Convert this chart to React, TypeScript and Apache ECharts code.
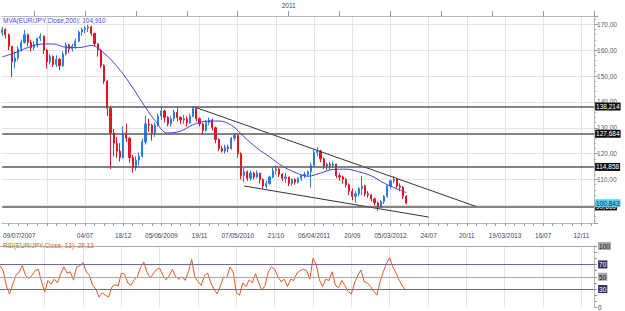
import React, { useEffect, useRef } from 'react';
import * as echarts from 'echarts';

// Two-week slots along the time axis (history + projection area on the right)
const SLOT_COUNT = 187;
const slotNames = Array.from({ length: SLOT_COUNT }, (_, i) => String(i));

// Bottom date labels and the slots they sit on
const dateLabels = ['09/07/2007', '04/07', '18/12', '05/06/2009', '19/11', '07/05/2010', '21/10', '06/04/2011', '20/09', '05/03/2012', '24/07', '20/11', '19/03/2013', '16/07', '12/11'];
const dateLabelSlots = [0, 26, 38, 50, 62, 74, 86, 98, 110, 122, 134, 146, 158, 170, 182];
const gridSlots = [14, 26, 38, 50, 62, 74, 86, 98, 110, 122, 134, 146, 158, 170, 182];
const yearLabel = '2011';
const yearSlot = 90;

// EUR/JPY bars: [open, close, low, high]
const ohlc: number[][] = [
  [166.8, 168.0, 165.5, 169.0], [168.0, 166.0, 164.5, 168.5], [166.0, 161.5, 160.0, 166.5], [161.5, 155.5, 149.6, 161.5],
  [155.5, 157.0, 153.0, 159.5], [157.0, 160.5, 156.0, 161.5], [160.5, 163.0, 159.5, 164.0], [163.0, 166.0, 162.5, 167.8],
  [166.0, 163.0, 161.5, 166.5], [163.0, 161.0, 159.5, 164.0], [161.0, 162.0, 160.0, 163.5], [162.0, 164.5, 161.0, 165.0],
  [164.5, 165.5, 163.5, 166.5], [165.5, 160.0, 158.5, 165.5], [160.0, 155.5, 152.9, 160.5], [155.5, 157.5, 154.5, 158.5],
  [157.5, 154.5, 153.5, 158.0], [154.5, 156.5, 153.5, 158.0], [156.5, 154.0, 152.2, 157.0], [154.0, 158.5, 153.5, 159.5],
  [158.5, 162.0, 158.0, 163.0], [162.0, 160.5, 159.0, 162.5], [160.5, 161.5, 159.5, 162.5], [161.5, 163.5, 160.5, 164.5],
  [163.5, 167.0, 163.0, 167.5], [167.0, 168.0, 165.5, 168.8], [168.0, 168.5, 166.5, 169.3], [168.5, 169.0, 167.0, 169.8],
  [169.0, 166.5, 165.5, 169.5], [166.5, 162.5, 161.5, 166.5], [162.5, 160.0, 157.5, 162.5], [160.0, 154.0, 153.0, 160.5],
  [154.0, 148.0, 147.0, 154.5], [148.0, 137.5, 134.5, 148.5], [137.5, 128.0, 114.1, 138.5], [128.0, 124.0, 119.0, 129.5],
  [124.0, 121.0, 118.5, 126.5], [121.0, 118.5, 117.0, 124.0], [118.5, 128.0, 118.0, 130.5], [128.0, 126.0, 124.5, 131.6],
  [126.0, 118.5, 116.5, 126.5], [118.5, 114.5, 112.7, 119.5], [114.5, 117.5, 113.5, 119.0], [117.5, 119.0, 115.5, 120.5],
  [119.0, 124.5, 118.5, 125.8], [124.5, 131.5, 123.5, 134.7], [131.5, 131.0, 128.5, 133.5], [131.0, 128.0, 125.0, 131.5],
  [128.0, 131.0, 126.5, 132.0], [131.0, 134.5, 130.5, 135.5], [134.5, 136.5, 133.0, 138.6], [136.5, 134.0, 132.0, 137.0],
  [134.0, 131.5, 130.5, 134.5], [131.5, 133.5, 130.5, 134.5], [133.5, 136.0, 132.5, 137.0], [136.0, 134.0, 132.5, 137.9],
  [134.0, 133.0, 131.5, 134.5], [133.0, 133.5, 131.5, 135.0], [133.5, 132.0, 130.5, 134.5], [132.0, 134.5, 131.5, 135.5],
  [134.5, 137.5, 134.0, 138.2], [137.5, 133.5, 132.5, 137.5], [133.5, 131.5, 130.5, 134.0], [131.5, 129.0, 127.6, 132.0],
  [129.0, 132.0, 128.5, 133.0], [132.0, 133.0, 131.0, 134.0], [133.0, 130.0, 129.0, 133.5], [130.0, 125.5, 124.0, 130.5],
  [125.5, 122.0, 121.0, 126.0], [122.0, 121.0, 120.4, 123.0], [121.0, 122.5, 120.0, 123.5], [122.5, 122.0, 120.5, 123.5],
  [122.0, 126.0, 121.5, 126.5], [126.0, 127.0, 125.0, 128.0], [127.0, 120.0, 118.5, 127.5], [120.0, 111.5, 110.0, 120.5],
  [111.5, 113.0, 109.0, 114.5], [113.0, 110.5, 109.5, 113.5], [110.5, 112.5, 109.5, 113.5], [112.5, 111.0, 110.0, 113.0],
  [111.0, 112.5, 110.5, 113.5], [112.5, 110.0, 108.5, 112.5], [110.0, 107.5, 106.4, 110.5], [107.5, 108.5, 106.5, 109.5],
  [108.5, 111.0, 108.0, 111.5], [111.0, 113.5, 110.5, 114.5], [113.5, 114.0, 112.0, 115.3], [114.0, 112.0, 111.0, 114.5],
  [112.0, 110.5, 109.5, 112.5], [110.5, 111.0, 108.7, 112.6], [111.0, 108.5, 107.5, 111.0], [108.5, 110.0, 107.5, 110.5],
  [110.0, 109.0, 108.0, 110.5], [109.0, 110.5, 108.5, 111.0], [110.5, 111.5, 109.5, 112.0], [111.5, 112.0, 110.5, 113.0],
  [112.0, 113.0, 111.0, 113.5], [113.0, 115.5, 106.9, 116.5], [115.5, 120.5, 115.0, 121.5], [120.5, 121.0, 119.0, 122.5],
  [121.0, 118.0, 116.7, 121.5], [118.0, 115.0, 114.0, 118.5], [115.0, 116.0, 113.5, 116.5], [116.0, 115.5, 114.0, 116.8],
  [115.5, 116.0, 114.5, 117.0], [116.0, 111.5, 110.5, 116.0], [111.5, 111.0, 109.5, 112.5], [111.0, 110.0, 108.5, 111.5],
  [110.0, 108.0, 107.0, 110.5], [108.0, 105.5, 104.0, 108.5], [105.5, 103.5, 102.0, 106.5], [103.5, 104.5, 101.0, 105.5],
  [104.5, 106.5, 103.5, 107.0], [106.5, 107.5, 104.0, 111.4], [107.5, 104.5, 103.5, 108.0], [104.5, 104.0, 103.0, 105.5],
  [104.0, 102.5, 101.5, 104.5], [102.5, 101.0, 100.0, 103.0], [101.0, 99.5, 97.9, 101.5], [99.5, 101.5, 99.0, 102.0],
  [101.5, 103.5, 100.5, 104.0], [103.5, 107.5, 103.0, 108.0], [107.5, 109.5, 106.5, 110.0], [109.5, 110.0, 108.5, 111.4],
  [110.0, 107.5, 106.5, 110.5], [107.5, 107.0, 105.5, 108.5], [107.0, 103.5, 102.5, 107.5], [103.5, 100.843, 100.4, 104.0],
];

// 200-period moving average, sampled every few slots
const mvaSlots = [0, 4, 8, 12, 16, 20, 24, 28, 32, 36, 40, 44, 48, 52, 56, 60, 64, 68, 72, 76, 80, 84, 88, 92, 96, 100, 104, 108, 112, 116, 120, 124, 127];
const mvaValues = [157.4, 159.0, 161.0, 162.3, 162.4, 161.1, 161.0, 161.8, 158.8, 153.8, 147.3, 139.8, 132.8, 128.0, 128.7, 131.2, 132.5, 132.6, 131.0, 126.5, 122.2, 118.8, 115.2, 112.8, 111.3, 112.5, 113.9, 114.0, 113.0, 111.4, 108.6, 106.4, 104.91];

// RSI(13), one value per slot
const rsiValues = [
  68, 60, 35, 22, 38, 52, 58, 68, 52, 47, 52, 60, 62, 42, 25, 44, 38, 46, 40, 55,
  66, 56, 58, 45, 66, 68, 73, 58, 52, 36, 30, 17, 24, 20, 17, 33, 37, 35, 56, 54,
  40, 36, 45, 50, 65, 74, 58, 48, 55, 62, 64, 52, 45, 52, 62, 50, 46, 50, 44, 58,
  78, 50, 42, 36, 52, 56, 40, 30, 22, 35, 50, 48, 66, 58, 24, 20, 40, 34, 45, 40,
  55, 40, 28, 36, 58, 66, 62, 50, 42, 46, 34, 46, 44, 56, 60, 62, 60, 46, 80, 70,
  45, 34, 46, 44, 58, 36, 32, 44, 36, 26, 22, 40, 52, 61, 42, 40, 34, 26, 20, 42,
  58, 72, 81, 66, 56, 44, 35, 28.13,
];
const rsiLevels = [100, 70, 50, 30];

// Horizontal support / resistance levels and the last close
const levels = [138.214, 127.684, 114.858, 99.61];
const lastClose = 100.843;

// Descending channel: [slot, price] start and end points
const channelStart = [[60, 138.2], [76, 107.5]];
const channelEnd = [[149, 99.54], [134, 95.5]];

const FONT = 'Liberation Sans';
const FS = 6.5;
const fmt = (v: number, d: number) => v.toFixed(d).replace('.', ',');

const labelSet = new Set(dateLabelSlots);
const gridSet = new Set(gridSlots);

const levelLabel = (bg: string, fg: string) => ({
  show: true,
  position: 'end' as const,
  distance: 1,
  backgroundColor: bg,
  color: fg,
  fontFamily: FONT,
  fontSize: FS,
  padding: [1, 1, 0, 1],
});

function buildOption() {
  const levelLines = levels.map((v) => ({
    yAxis: v,
    lineStyle: { color: '#5a5a5a', width: 1.5, type: 'solid' },
    label: { ...levelLabel('#101010', '#ffffff'), formatter: fmt(v, 3) },
  }));
  const channelLines = channelStart.map((s, k) => [
    { coord: [String(s[0]), s[1]], lineStyle: { color: '#333333', width: 1, type: 'solid' }, label: { show: false } },
    { coord: [String(channelEnd[k][0]), channelEnd[k][1]] },
  ]);
  const closeLine = {
    yAxis: lastClose,
    lineStyle: { color: 'rgba(0,0,0,0)', width: 0.1, type: 'solid' },
    label: { ...levelLabel('#5ccbf4', '#10304a'), formatter: fmt(lastClose, 3) },
  };

  return {
    animation: false,
    backgroundColor: '#ffffff',
    textStyle: { fontFamily: FONT },
    grid: [
      { left: -0.4, right: 30.9, top: 16, height: 207 },
      { left: -0.4, right: 30.9, top: 246, height: 63.5 },
    ],
    xAxis: [
      {
        gridIndex: 0,
        type: 'category',
        data: slotNames,
        boundaryGap: false,
        axisLine: { lineStyle: { color: '#b8b8b8' } },
        axisTick: { interval: (i: number) => i % 3 === 2, length: 3, lineStyle: { color: '#9a9a9a' } },
        axisLabel: {
          interval: (i: number) => labelSet.has(i),
          formatter: (_v: string, i: number) => {
            const k = dateLabelSlots.indexOf(i);
            if (k < 0) return '';
            return k === 0 ? `{first|${dateLabels[k]}}` : dateLabels[k];
          },
          fontFamily: FONT,
          fontSize: FS,
          color: '#3a4460',
          margin: 9,
          rich: { first: { fontFamily: FONT, fontSize: FS, color: '#3a4460', padding: [0, 0, 0, 34] } },
        },
        splitLine: { show: true, interval: (i: number) => gridSet.has(i), lineStyle: { color: '#e4e4e4', width: 1 } },
      },
      {
        gridIndex: 1,
        type: 'category',
        data: slotNames,
        boundaryGap: false,
        axisLine: { show: false },
        axisTick: { show: false },
        axisLabel: { show: false },
        splitLine: { show: true, interval: (i: number) => gridSet.has(i), lineStyle: { color: '#e4e4e4', width: 1 } },
      },
      {
        gridIndex: 0,
        type: 'category',
        position: 'top',
        data: slotNames,
        boundaryGap: false,
        axisLine: { show: true, lineStyle: { color: '#b8b8b8' } },
        axisTick: { interval: (i: number) => i % 16 === 10, length: 5, lineStyle: { color: '#9a9a9a' } },
        axisLabel: {
          interval: (i: number) => i === yearSlot,
          formatter: () => yearLabel,
          fontFamily: FONT,
          fontSize: FS,
          color: '#3a4460',
          margin: 7,
        },
        splitLine: { show: false },
      },
    ],
    yAxis: [
      {
        gridIndex: 0,
        type: 'value',
        position: 'right',
        min: 93.2,
        max: 173.2,
        splitNumber: 8,
        axisLine: { show: true, lineStyle: { color: '#b8b8b8' } },
        axisTick: { show: true, length: 4, lineStyle: { color: '#9a9a9a' } },
        minorTick: { show: true, splitNumber: 5, length: 2, lineStyle: { color: '#b0b0b0' } },
        axisLabel: {
          fontFamily: FONT,
          fontSize: FS,
          color: '#555a66',
          margin: 3,
          showMinLabel: false,
          showMaxLabel: false,
          // the 100 tick sits under the last-close tag
          formatter: (v: number) => (v === 100 ? '' : fmt(v, 2)),
        },
        splitLine: { show: true, lineStyle: { color: '#e4e4e4' } },
      },
      {
        gridIndex: 1,
        type: 'value',
        position: 'right',
        min: 0,
        max: 100,
        interval: 10,
        axisLine: { show: true, lineStyle: { color: '#b8b8b8' } },
        axisTick: { show: true, length: 3, lineStyle: { color: '#9a9a9a' } },
        axisLabel: {
          margin: 4,
          fontFamily: FONT,
          fontSize: FS,
          formatter: (v: number) =>
            v === 100 || v === 50 ? `{g|${v}}` : v === 70 || v === 30 ? `{n|${v}}` : v === 0 ? `{p|0}` : '',
          rich: {
            g: { backgroundColor: '#a9a9a9', color: '#111111', fontFamily: FONT, fontSize: FS, padding: [1, 1, 0, 1] },
            n: { backgroundColor: '#2e2e66', color: '#ffffff', fontFamily: FONT, fontSize: FS, padding: [1, 1, 0, 1] },
            p: { color: '#333333', fontFamily: FONT, fontSize: FS },
          },
        },
        splitLine: { show: false },
      },
    ],
    series: [
      {
        name: 'EUR/JPY',
        type: 'candlestick',
        xAxisIndex: 0,
        yAxisIndex: 0,
        data: ohlc,
        barWidth: 1.6,
        itemStyle: {
          color: '#2a7ce6',
          color0: '#e5141e',
          borderColor: '#2a7ce6',
          borderColor0: '#e5141e',
          borderWidth: 1,
        },
        markLine: {
          silent: true,
          symbol: ['none', 'none'],
          animation: false,
          data: [...channelLines, ...levelLines, closeLine],
        },
      },
      {
        name: 'MVA',
        type: 'line',
        xAxisIndex: 0,
        yAxisIndex: 0,
        data: mvaSlots.map((s, k) => [s, mvaValues[k]]),
        smooth: 0.4,
        showSymbol: false,
        lineStyle: { color: '#4040f0', width: 1 },
        z: 3,
      },
      {
        name: 'RSI',
        type: 'line',
        xAxisIndex: 1,
        yAxisIndex: 1,
        data: rsiValues,
        showSymbol: false,
        lineStyle: { color: '#e8581c', width: 1 },
        markLine: {
          silent: true,
          symbol: ['none', 'none'],
          animation: false,
          label: { show: false },
          data: rsiLevels.map((v) => ({
            yAxis: v,
            lineStyle: { color: v === 70 || v === 30 ? '#6a6aa8' : '#a8a8a8', width: 1.2, type: 'solid' },
          })),
        },
      },
    ],
    graphic: [
      {
        type: 'text',
        left: 3,
        top: 17,
        style: {
          text: `MVA(EUR/JPY.Close,200): ${fmt(mvaValues[mvaValues.length - 1], 3)}`,
          fill: '#4646e6',
          font: `${FS}px "${FONT}"`,
        },
      },
      {
        type: 'text',
        left: 3,
        top: 242,
        style: {
          text: `RSI(EUR/JPY.Close, 13): ${fmt(rsiValues[rsiValues.length - 1], 2)}`,
          fill: '#e8581c',
          font: `${FS}px "${FONT}"`,
        },
      },
    ],
  };
}

export default function App() {
  const ref = useRef<HTMLDivElement>(null);
  useEffect(() => {
    if (!ref.current) return;
    const chart = echarts.init(ref.current, undefined, { renderer: 'svg' });
    chart.setOption(buildOption() as any);
    return () => chart.dispose();
  }, []);
  return (
    <div
      ref={ref}
      style={{ position: 'fixed', left: 0, top: 0, width: 625, height: 311, background: '#ffffff' }}
    />
  );
}
